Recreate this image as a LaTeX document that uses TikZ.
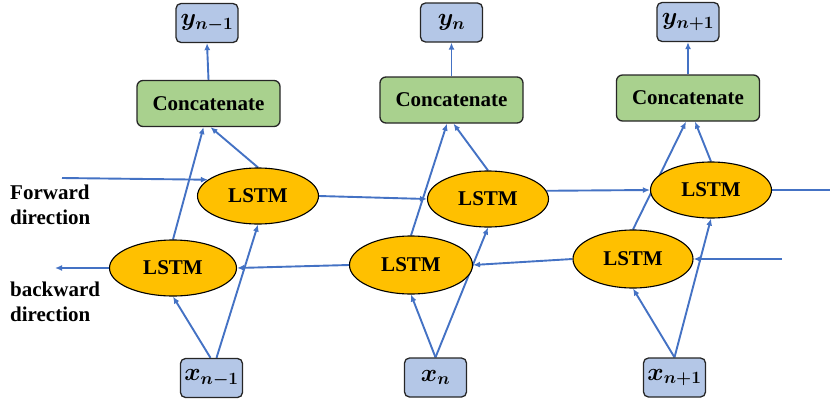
\documentclass[tikz,border=0pt]{standalone}
\usepackage{fontspec}
\setmainfont{Liberation Serif}
\usepackage{bm}
\usetikzlibrary{arrows.meta,shapes.geometric,backgrounds}
\definecolor{lblue}{HTML}{B4C7E7}
\definecolor{lgreen}{HTML}{A9D18E}
\definecolor{lorange}{HTML}{FFC000}
\definecolor{lineblue}{HTML}{4472C4}
\begin{document}
\begin{tikzpicture}[x=1pt,y=-1pt,
  every node/.style={font=\fontsize{21}{25}\selectfont\bfseries},
  iobox/.style={draw=black!85, line width=1.3pt, rounded corners=5pt, fill=lblue, minimum width=62pt, minimum height=39pt, inner sep=0pt, font=\fontsize{23}{27}\selectfont},
  catbox/.style={draw=black!85, line width=1.3pt, rounded corners=6pt, fill=lgreen, minimum width=143pt, minimum height=46pt, inner sep=0pt},
  lstm/.style={ellipse, draw=black, line width=1.1pt, fill=lorange, minimum width=121pt, minimum height=56pt, inner sep=0pt},
  conn/.style={draw=lineblue, line width=1.9pt, -{Latex[length=7pt,width=6pt]}},
  plain/.style={draw=lineblue, line width=1.9pt},
  lbl/.style={anchor=west, align=left, inner sep=0pt}
]
\useasboundingbox (0,0) rectangle (830,405);
\node[iobox] (ya) at (207,23) {$\bm{y_{n-1}}$};
\node[iobox] (yb) at (451.5,22.5) {$\bm{y_{n}}$};
\node[iobox] (yc) at (688,22) {$\bm{y_{n+1}}$};
\node[catbox] (ca) at (208.5,103.5) {Concatenate};
\node[catbox] (cb) at (451.5,100) {Concatenate};
\node[catbox] (cc) at (688,98) {Concatenate};
\node[lstm] (fa) at (258,196) {LSTM};
\node[lstm] (fb) at (488,199) {LSTM};
\node[lstm] (fc) at (711,190) {LSTM};
\node[lstm, minimum width=127pt] (ba) at (173,268) {LSTM};
\node[lstm, minimum width=123pt, minimum height=58pt] (bb) at (411,265) {LSTM};
\node[lstm, minimum width=120pt, minimum height=58pt] (bc) at (633,259) {LSTM};
\node[iobox] (xa) at (211.5,378) {$\bm{x_{n-1}}$};
\node[iobox] (xb) at (435.5,377.5) {$\bm{x_{n}}$};
\node[iobox] (xc) at (674.5,377.5) {$\bm{x_{n+1}}$};
\node[lbl] (flbl) at (10,205) {Forward\\direction};
\node[lbl] (blbl) at (10,302) {backward\\direction};
\coordinate (fin) at (62,178);
\coordinate (bout) at (55,268);
\coordinate (fout) at (830,190);
\coordinate (bin) at (782,259);
\begin{pgfonlayer}{background}
\draw[conn] (ca.north) -- (ya.south);
\draw[conn] (cb.north) -- (yb.south);
\draw[conn] (cc.north) -- (yc.south);
\draw[conn] (fin) -- (fa.162);
\draw[conn] (fa.east) -- (fb.west);
\draw[conn] (fb.8) -- (fc.west);
\draw[plain] (fc.east) -- (fout);
\draw[conn] (bin) -- (bc.east);
\draw[conn] (bc.west) -- (bb.east);
\draw[conn] (bb.west) -- (ba.east);
\draw[conn] (ba.west) -- (bout);
\draw[conn] ([xshift=-1pt]xa.north) -- (ba.south);
\draw[conn] ([xshift=5pt]xa.north) -- (fa.south);
\draw[conn] (xb.north) -- (bb.south);
\draw[conn] (xb.north) -- (fb.south);
\draw[conn] (xc.north) -- (bc.south);
\draw[conn] (xc.north) -- (fc.south);
\draw[conn] (ba.north) -- ([xshift=-5pt]ca.south);
\draw[conn] (fa.north) -- ([xshift=2pt]ca.south);
\draw[conn] (bb.north) -- ([xshift=-4.5pt]cb.south);
\draw[conn] (fb.north) -- ([xshift=2pt]cb.south);
\draw[conn] (bc.north) -- ([xshift=-2pt]cc.south);
\draw[conn] (fc.north) -- ([xshift=7pt]cc.south);
\end{pgfonlayer}
\end{tikzpicture}
\end{document}
